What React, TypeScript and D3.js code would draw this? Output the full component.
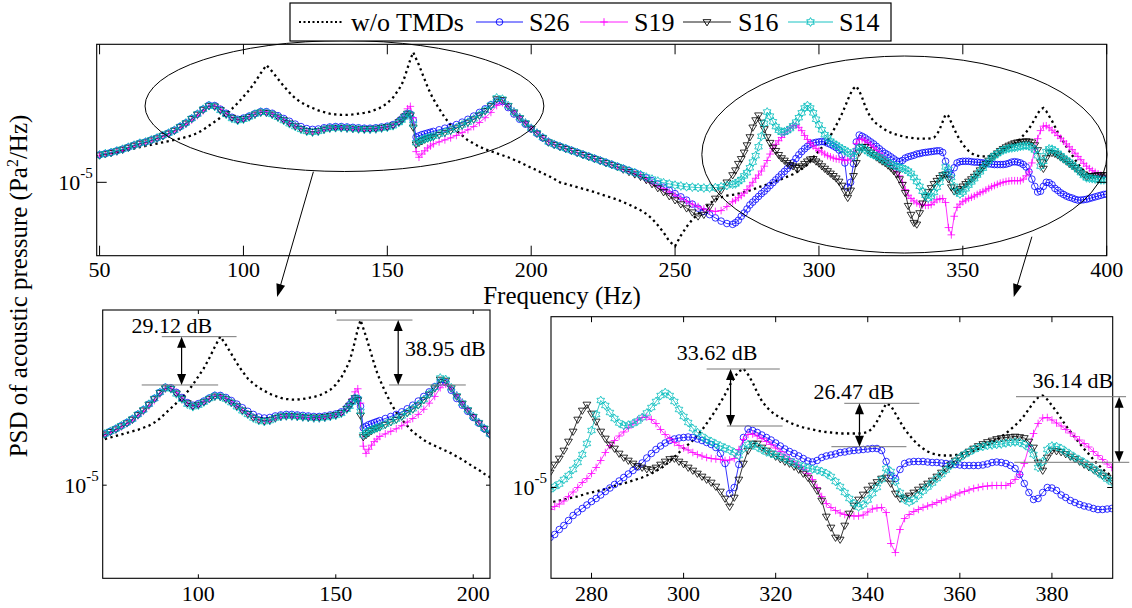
import React from "react";
import * as d3 from "d3";

// Frequency grid (Hz)
const FREQ: number[] = [
  ...d3.range(50, 155, 2),
  ...d3.range(155, 166, 1),
  ...d3.range(166, 271, 2),
  ...d3.range(271, 401, 1),
];

// PSD level (log units, -50 <-> 1e-5 Pa^2/Hz)
const WO_TMD = [
  -46.7,-46.55,-46.4,-46.25,-46.1,-45.95,-45.8,-45.65,-45.5,-45.35,-45.2,-45.05,-44.9,-44.75,-44.6,-44.4,-44.2,-43.9,-43.5,-43.0,
  -42.5,-42.0,-41.5,-40.9,-40.2,-39.4,-38.6,-37.6,-36.5,-35.5,-36.3,-37.2,-38.1,-38.9,-39.6,-40.1,-40.5,-40.8,-41.1,-41.3,
  -41.5,-41.6,-41.65,-41.65,-41.6,-41.5,-41.4,-41.25,-41.0,-40.7,-40.2,-39.5,-38.5,
  -37.9,-37.0,-35.9,-34.8,-33.9,-34.7,-35.5,-36.4,-37.3,-38.2,-39.0,
  -39.7,-40.9,-42.0,-42.9,-43.6,-44.2,-44.8,-45.2,-45.6,-45.9,-46.15,-46.4,-46.65,-46.9,-47.2,-47.5,-47.85,-48.2,-48.5,-48.9,
  -49.2,-49.6,-50.0,-50.2,-50.4,-50.6,-50.8,-51.0,-51.2,-51.45,-51.7,-51.9,-52.15,-52.45,-52.75,-53.1,-53.45,-53.9,-54.5,-55.3,
  -56.2,-57.3,-57.9,-56.6,-55.5,-54.6,-53.9,-53.3,-52.6,-52.15,-51.85,-51.65,-51.55,
  -51.5,-51.4,-51.3,-51.2,-51.1,-51.0,-50.9,-50.75,-50.6,-50.5,
  -50.4,-50.25,-50.15,-50.0,-49.85,-49.7,-49.6,-49.45,-49.3,-49.15,
  -49.0,-48.8,-48.6,-48.35,-48.1,-47.8,-47.35,-46.95,-46.5,-46.1,
  -45.7,-45.3,-44.8,-44.25,-43.6,-42.95,-42.25,-41.5,-40.7,-39.8,
  -39.0,-38.4,-38.1,-38.7,-39.5,-40.5,-41.35,-41.95,-42.4,-42.75,
  -43.0,-43.25,-43.5,-43.7,-43.85,-44.0,-44.1,-44.2,-44.3,-44.4,
  -44.45,-44.5,-44.55,-44.6,-44.6,-44.6,-44.6,-44.6,-44.55,-44.45,
  -44.1,-43.4,-42.5,-41.6,-41.8,-42.6,-43.4,-44.15,-44.75,-45.3,
  -45.75,-46.1,-46.4,-46.6,-46.7,-46.8,-46.8,-46.8,-46.75,-46.65,
  -46.55,-46.45,-46.3,-46.15,-45.95,-45.75,-45.5,-45.2,-44.9,-44.6,
  -44.2,-43.8,-43.35,-42.8,-42.15,-41.5,-41.0,-40.8,-41.2,-41.8,
  -42.4,-43.1,-43.8,-44.4,-45.0,-45.6,-46.15,-46.65,-47.2,-47.7,
  -48.15,-48.55,-48.85,-49.0,-49.1,-49.2,-49.3,-49.35,-49.4,-49.45,
];

const S26 = [
  -46.6,-46.45,-46.3,-46.1,-45.9,-45.65,-45.4,-45.15,-45.0,-44.75,-44.5,-44.2,-43.9,-43.55,-43.1,-42.65,-42.1,-41.55,-40.95,-40.45,
  -40.5,-40.95,-41.45,-41.95,-42.2,-42.05,-41.8,-41.5,-41.25,-41.25,-41.45,-41.75,-42.1,-42.45,-42.8,-43.1,-43.35,-43.45,-43.4,-43.25,
  -43.15,-43.1,-43.1,-43.15,-43.2,-43.25,-43.3,-43.3,-43.25,-43.15,-43.05,-42.85,-42.45,
  -42.15,-41.8,-41.5,-41.55,-42.3,-44.4,-44.25,-44.1,-44.0,-43.9,-43.8,
  -43.7,-43.5,-43.3,-43.1,-42.85,-42.55,-42.2,-41.8,-41.35,-40.9,-40.4,-39.95,-40.0,-40.75,-41.55,-42.2,-42.8,-43.4,-43.95,-44.5,
  -45.0,-45.3,-45.55,-45.8,-46.05,-46.3,-46.55,-46.8,-47.05,-47.3,-47.55,-47.8,-48.05,-48.3,-48.55,-48.8,-49.1,-49.45,-49.8,-50.2,
  -50.6,-51.0,-51.4,-51.8,-52.2,-52.7,-53.2,-53.6,-54.0,-54.4,-54.8,-55.1,-55.2,
  -55.0,-54.7,-54.2,-53.8,-53.3,-52.8,-52.45,-52.1,-51.75,-51.4,
  -51.1,-50.75,-50.4,-50.05,-49.7,-49.35,-49.0,-48.65,-48.3,-47.95,
  -47.55,-47.05,-46.6,-46.2,-45.85,-45.55,-45.3,-45.15,-45.05,-45.0,
  -44.95,-45.0,-45.15,-45.3,-45.5,-45.7,-46.0,-46.6,-47.6,-50.6,
  -50.0,-47.7,-45.0,-44.15,-44.3,-44.5,-44.75,-45.0,-45.25,-45.55,
  -45.85,-46.15,-46.4,-46.6,-46.85,-47.1,-47.35,-47.45,-47.3,-47.0,
  -46.85,-46.75,-46.65,-46.5,-46.45,-46.35,-46.3,-46.25,-46.2,-46.15,
  -46.1,-46.1,-46.3,-47.4,-48.8,-49.1,-48.2,-47.6,-47.45,-47.4,
  -47.4,-47.4,-47.45,-47.5,-47.5,-47.55,-47.6,-47.65,-47.7,-47.75,
  -47.8,-47.8,-47.8,-47.8,-47.75,-47.65,-47.5,-47.45,-47.5,-47.6,
  -47.8,-48.1,-48.7,-49.6,-50.5,-51.2,-51.1,-50.5,-50.0,-50.05,
  -50.3,-50.75,-51.0,-51.3,-51.5,-51.7,-51.85,-51.95,-52.1,-52.2,
  -52.2,-52.15,-52.1,-52.0,-51.9,-51.8,-51.7,-51.6,-51.5,-51.45,
];

const S19 = [
  -46.65,-46.5,-46.35,-46.2,-46.0,-45.75,-45.5,-45.25,-45.1,-44.85,-44.6,-44.3,-44.0,-43.65,-43.25,-42.8,-42.3,-41.75,-41.15,-40.6,
  -40.55,-40.95,-41.5,-42.0,-42.3,-42.2,-41.9,-41.55,-41.3,-41.3,-41.55,-41.9,-42.3,-42.7,-43.05,-43.4,-43.65,-43.8,-43.75,-43.5,
  -43.35,-43.3,-43.3,-43.35,-43.4,-43.45,-43.5,-43.5,-43.45,-43.35,-43.2,-42.95,-42.5,
  -42.15,-41.6,-40.9,-40.6,-42.0,-46.2,-46.9,-46.5,-46.1,-45.75,-45.5,
  -45.25,-45.0,-44.75,-44.5,-44.2,-43.85,-43.5,-43.1,-42.6,-42.0,-41.35,-40.5,-40.15,-40.6,-41.2,-41.9,-42.6,-43.25,-43.85,-44.4,
  -44.95,-45.3,-45.55,-45.8,-46.05,-46.3,-46.55,-46.8,-47.05,-47.3,-47.55,-47.8,-48.1,-48.4,-48.65,-48.95,-49.2,-49.6,-50.0,-50.4,
  -50.8,-51.2,-51.6,-52.0,-52.35,-52.7,-53.0,-53.3,-53.5,-53.6,-53.5,-53.0,-52.4,
  -52.2,-51.9,-51.65,-51.35,-50.9,-50.45,-50.0,-49.5,-49.1,-48.6,
  -48.0,-47.3,-46.5,-45.8,-45.3,-44.85,-44.45,-44.05,-43.65,-43.25,
  -43.0,-42.95,-43.2,-43.6,-44.2,-44.7,-45.1,-45.5,-45.8,-46.05,
  -46.25,-46.5,-46.7,-46.85,-47.0,-47.1,-47.15,-47.2,-47.3,-47.25,
  -47.1,-46.2,-45.2,-44.7,-44.65,-44.85,-45.1,-45.4,-45.7,-46.05,
  -46.4,-46.75,-47.1,-47.45,-47.8,-48.2,-48.6,-49.2,-50.0,-50.9,
  -51.6,-52.0,-52.3,-52.55,-52.7,-52.8,-52.85,-52.85,-52.75,-52.45,
  -52.15,-52.05,-52.0,-52.5,-55.6,-56.5,-54.2,-53.1,-52.7,-52.4,
  -52.2,-52.0,-51.85,-51.7,-51.5,-51.3,-51.15,-50.95,-50.75,-50.55,
  -50.4,-50.25,-50.1,-50.0,-49.9,-49.85,-49.8,-49.8,-49.8,-49.8,
  -49.6,-49.2,-48.7,-47.6,-45.9,-44.6,-43.6,-43.05,-43.0,-43.25,
  -43.55,-43.85,-44.2,-44.55,-44.9,-45.25,-45.6,-45.95,-46.4,-46.8,
  -47.2,-47.65,-48.0,-48.3,-48.55,-48.75,-48.95,-49.1,-49.2,-49.3,
];

const S16 = [
  -46.65,-46.5,-46.35,-46.15,-45.95,-45.7,-45.45,-45.2,-45.05,-44.8,-44.55,-44.25,-43.95,-43.6,-43.15,-42.7,-42.15,-41.6,-41.0,-40.55,
  -40.6,-41.05,-41.55,-42.0,-42.3,-42.15,-41.9,-41.6,-41.35,-41.4,-41.6,-41.95,-42.3,-42.7,-43.05,-43.4,-43.65,-43.75,-43.65,-43.45,
  -43.3,-43.25,-43.25,-43.3,-43.35,-43.4,-43.4,-43.4,-43.35,-43.25,-43.15,-42.95,-42.55,
  -42.25,-41.85,-41.5,-41.7,-43.2,-45.3,-45.1,-44.9,-44.7,-44.55,-44.45,
  -44.35,-44.1,-43.85,-43.6,-43.3,-42.95,-42.6,-42.2,-41.7,-41.15,-40.55,-39.7,-39.8,-40.55,-41.35,-42.05,-42.7,-43.35,-43.95,-44.5,
  -45.05,-45.35,-45.6,-45.85,-46.1,-46.35,-46.6,-46.85,-47.1,-47.35,-47.6,-47.85,-48.1,-48.4,-48.7,-49.0,-49.3,-49.7,-50.2,-50.7,
  -51.2,-51.7,-52.2,-52.7,-53.2,-53.7,-54.2,-54.0,-53.0,-52.0,-51.0,-50.0,-49.1,
  -48.5,-47.7,-47.1,-46.3,-45.4,-44.4,-43.2,-42.3,-41.7,-42.6,
  -43.4,-44.4,-45.1,-45.7,-46.1,-46.6,-47.0,-47.3,-47.6,-47.85,
  -48.0,-48.15,-48.2,-48.0,-47.7,-47.4,-47.15,-47.1,-47.4,-47.65,
  -48.0,-48.3,-48.6,-48.9,-49.2,-49.5,-49.9,-50.4,-51.1,-51.9,
  -51.0,-49.2,-47.6,-46.3,-45.6,-45.6,-46.0,-46.3,-46.6,-46.9,
  -47.15,-47.4,-47.6,-47.9,-48.2,-48.6,-49.0,-49.6,-50.3,-51.3,
  -52.9,-54.0,-55.0,-55.2,-53.8,-52.6,-51.8,-51.2,-50.7,-50.2,
  -49.8,-49.45,-49.1,-49.0,-49.6,-50.6,-51.1,-51.0,-50.8,-50.5,
  -50.2,-49.9,-49.6,-49.3,-48.9,-48.5,-48.1,-47.7,-47.3,-47.0,
  -46.7,-46.4,-46.1,-45.85,-45.65,-45.45,-45.3,-45.15,-45.05,-45.0,
  -44.95,-44.9,-44.95,-45.05,-45.4,-46.0,-47.5,-48.3,-47.0,-46.3,
  -46.35,-46.45,-46.65,-46.9,-47.15,-47.4,-47.7,-47.95,-48.2,-48.5,
  -48.8,-49.0,-49.3,-49.2,-49.2,-49.15,-49.1,-49.1,-49.1,-49.1,
];

const S14 = [
  -46.6,-46.45,-46.3,-46.1,-45.9,-45.65,-45.4,-45.15,-45.0,-44.75,-44.5,-44.2,-43.9,-43.55,-43.1,-42.65,-42.1,-41.55,-40.95,-40.5,
  -40.6,-41.1,-41.6,-42.1,-42.35,-42.2,-41.9,-41.55,-41.3,-41.35,-41.6,-41.95,-42.35,-42.75,-43.1,-43.45,-43.7,-43.8,-43.7,-43.45,
  -43.3,-43.25,-43.25,-43.3,-43.35,-43.4,-43.45,-43.45,-43.4,-43.3,-43.2,-43.0,-42.6,
  -42.3,-41.9,-41.5,-41.6,-42.8,-45.1,-44.9,-44.75,-44.6,-44.5,-44.4,
  -44.3,-44.05,-43.8,-43.55,-43.25,-42.9,-42.55,-42.15,-41.65,-41.1,-40.45,-39.55,-39.7,-40.5,-41.3,-42.0,-42.65,-43.3,-43.9,-44.45,
  -45.0,-45.3,-45.55,-45.8,-46.05,-46.3,-46.55,-46.8,-47.05,-47.3,-47.55,-47.8,-48.05,-48.3,-48.55,-48.8,-49.05,-49.35,-49.6,-49.85,
  -50.05,-50.2,-50.35,-50.45,-50.55,-50.6,-50.65,-50.7,-50.7,-50.65,-50.55,-50.4,-50.25,
  -50.2,-49.9,-49.65,-49.2,-48.8,-48.2,-47.5,-46.7,-45.6,-44.3,
  -42.7,-41.3,-41.8,-42.5,-43.1,-43.55,-43.8,-43.75,-43.6,-43.35,
  -43.0,-42.55,-42.0,-41.4,-40.8,-40.5,-40.8,-41.4,-42.2,-42.9,
  -43.5,-44.1,-44.5,-44.9,-45.2,-45.4,-45.65,-45.85,-46.05,-46.25,
  -46.5,-46.8,-46.1,-45.7,-45.75,-45.95,-46.2,-46.45,-46.6,-46.75,
  -46.9,-47.1,-47.35,-47.55,-47.75,-47.9,-48.05,-48.15,-48.25,-48.4,
  -48.6,-48.9,-49.4,-49.9,-50.5,-51.1,-51.6,-51.95,-51.7,-51.25,
  -50.6,-50.0,-49.2,-48.1,-48.4,-49.4,-50.5,-51.2,-51.45,-51.2,
  -50.8,-50.35,-49.95,-49.55,-49.1,-48.7,-48.25,-47.8,-47.4,-47.0,
  -46.7,-46.45,-46.2,-46.0,-45.9,-45.8,-45.75,-45.7,-45.65,-45.55,
  -45.5,-45.45,-45.5,-45.7,-46.0,-46.7,-48.0,-47.4,-46.2,-45.85,
  -45.9,-46.1,-46.4,-46.7,-47.0,-47.25,-47.5,-47.8,-48.1,-48.45,
  -48.8,-49.15,-49.45,-49.5,-49.55,-49.6,-49.65,-49.7,-49.7,-49.7,
];

const LEVEL_DOMAIN: [number, number] = [-59.08, -32.92];
const Y_TICK = -50;

const SERIES = [
  { name: "S26", values: S26, color: "#0000ff", marker: "circle" },
  { name: "S19", values: S19, color: "#ff00ff", marker: "plus" },
  { name: "S16", values: S16, color: "#000000", marker: "tridown" },
  { name: "S14", values: S14, color: "#00bcbc", marker: "hexagram" },
];

const TOP_TICKS = [50, 100, 150, 200, 250, 300, 350, 400];
const BL_TICKS = [100, 150, 200];
const BR_TICKS = [280, 300, 320, 340, 360, 380];

const PANELS = [
  { id: "top", xDomain: [49, 400], left: 96.7, right: 1106.7, top: 44.3, bottom: 255.7, ticks: TOP_TICKS, tickLen: 10, labelY: 277 },
  { id: "bl", xDomain: [65.2, 206.1], left: 102.7, right: 490, top: 310, bottom: 578.3, ticks: BL_TICKS, tickLen: 4, labelY: 601 },
  { id: "br", xDomain: [271.2, 393.2], left: 551, right: 1112.7, top: 316.7, bottom: 578.3, ticks: BR_TICKS, tickLen: 5.5, labelY: 601 },
];

const BL_ANNOT = [
  { label: "29.12 dB", tx: 75.7, ty: -35.16, up: -35.52, upX: [86.7, 113.9], low: -40.23, lowX: [79.4, 107.2], ax: 93.9 },
  { label: "38.95 dB", tx: 175.2, ty: -37.4, up: -33.9, upX: [150.3, 177.9], low: -40.23, lowX: [169.4, 197.3], ax: 172.7 },
];
const BR_ANNOT = [
  { label: "33.62 dB", tx: 298.5, ty: -37.25, up: -38.15, upX: [305.0, 320.9], low: -43.85, lowX: [309.4, 321.5], ax: 310.2 },
  { label: "26.47 dB", tx: 328.2, ty: -41.15, up: -41.58, upX: [334.9, 351.2], low: -45.92, lowX: [332.1, 348.4], ax: 338.2 },
  { label: "36.14 dB", tx: 375.8, ty: -40.05, up: -40.92, upX: [372.2, 396.1], low: -47.48, lowX: [371.8, 396.8], ax: 394.6 },
];
const ELLIPSES = [
  { cx: 135.1, cy: -40.56, rx: 69.3, ry: 8.1, from: [124.3, -48.69], to: [111.7, -64.2] },
  { cx: 329.7, cy: -46.56, rx: 70.4, ry: 12.19, from: [374.0, -56.73], to: [367.7, -64.2] },
];

const SERIF = { fontFamily: "Liberation Serif" };

function markerPath(kind: string, px: number, py: number): string {
  switch (kind) {
    case "circle": {
      const r = 3.3;
      return `M${px + r},${py}A${r},${r} 0 1,1 ${px - r},${py}A${r},${r} 0 1,1 ${px + r},${py}Z`;
    }
    case "plus": {
      const s = 3.8;
      return `M${px - s},${py}H${px + s}M${px},${py - s}V${py + s}`;
    }
    case "tridown": {
      const s = 3.9;
      return `M${px - s},${py - s * 0.6}L${px + s},${py - s * 0.6}L${px},${py + s}Z`;
    }
    default: {
      const R = 4.4, r = R / Math.sqrt(3);
      let d = "";
      for (let k = 0; k < 12; k++) {
        const a = -Math.PI / 2 + (k * Math.PI) / 6;
        const rr = k % 2 === 0 ? R : r;
        d += (k === 0 ? "M" : "L") + (px + rr * Math.cos(a)).toFixed(2) + "," + (py + rr * Math.sin(a)).toFixed(2);
      }
      return d + "Z";
    }
  }
}

function arrowHead(x: number, y: number, dx: number, dy: number, len = 10, half = 4.5) {
  const n = Math.hypot(dx, dy);
  const ux = dx / n, uy = dy / n;
  const bx = x - ux * len, by = y - uy * len;
  return `M${x},${y}L${bx - uy * half},${by + ux * half}L${bx + uy * half},${by - ux * half}Z`;
}

function DoubleArrow({ x, y1, y2 }: { x: number; y1: number; y2: number }) {
  return (
    <g>
      <line x1={x} x2={x} y1={y1 + 8} y2={y2 - 8} stroke="#000" strokeWidth={1.2} />
      <path d={arrowHead(x, y1, 0, -1, 11, 4.5)} fill="#000" />
      <path d={arrowHead(x, y2, 0, 1, 11, 4.5)} fill="#000" />
    </g>
  );
}

function YTickLabel({ x, y }: { x: number; y: number }) {
  return (
    <text x={x} y={y + 7.5} textAnchor="end" fontSize={22} style={SERIF}>
      10<tspan dy={-12} fontSize={15}>-5</tspan>
    </text>
  );
}

function Panel({ p }: { p: (typeof PANELS)[number] }) {
  const x = d3.scaleLinear().domain(p.xDomain).range([p.left, p.right]);
  const y = d3.scaleLinear().domain(LEVEL_DOMAIN).range([p.bottom, p.top]);
  const idx = FREQ.map((_, i) => i).filter((i) => FREQ[i] >= p.xDomain[0] - 4 && FREQ[i] <= p.xDomain[1] + 4);
  const pathFor = (vals: number[]) =>
    d3.line<number>().x((i) => x(FREQ[i])).y((i) => y(vals[i]))(idx) || "";
  const clipId = `clip-${p.id}`;
  const yt = y(Y_TICK);
  return (
    <g>
      <defs>
        <clipPath id={clipId}>
          <rect x={p.left} y={p.top} width={p.right - p.left} height={p.bottom - p.top} />
        </clipPath>
      </defs>
      <rect x={p.left} y={p.top} width={p.right - p.left} height={p.bottom - p.top} fill="#fff" />
      <g clipPath={`url(#${clipId})`}>
        <path d={pathFor(WO_TMD)} fill="none" stroke="#000" strokeWidth={2.3} strokeDasharray="2.3 3.4" />
        {SERIES.map((s) => (
          <g key={s.name}>
            <path d={pathFor(s.values)} fill="none" stroke={s.color} strokeWidth={0.8} />
            <path
              d={idx.map((i) => markerPath(s.marker, x(FREQ[i]), y(s.values[i]))).join("")}
              fill="none"
              stroke={s.color}
              strokeWidth={0.8}
            />
          </g>
        ))}
      </g>
      <rect x={p.left} y={p.top} width={p.right - p.left} height={p.bottom - p.top} fill="none" stroke="#000" strokeWidth={1.1} />
      {p.ticks.map((t) => (
        <g key={t}>
          <line x1={x(t)} x2={x(t)} y1={p.bottom} y2={p.bottom - p.tickLen} stroke="#000" strokeWidth={1} />
          <line x1={x(t)} x2={x(t)} y1={p.top} y2={p.top + p.tickLen} stroke="#000" strokeWidth={1} />
          <text x={x(t)} y={p.labelY} textAnchor="middle" fontSize={22} style={SERIF}>
            {t}
          </text>
        </g>
      ))}
      <line x1={p.left} x2={p.left + p.tickLen} y1={yt} y2={yt} stroke="#000" strokeWidth={1} />
      <line x1={p.right - p.tickLen} x2={p.right} y1={yt} y2={yt} stroke="#000" strokeWidth={1} />
      <YTickLabel x={p.left - 4} y={yt} />
    </g>
  );
}

function Annotations({ p, list }: { p: (typeof PANELS)[number]; list: typeof BL_ANNOT }) {
  const x = d3.scaleLinear().domain(p.xDomain).range([p.left, p.right]);
  const y = d3.scaleLinear().domain(LEVEL_DOMAIN).range([p.bottom, p.top]);
  return (
    <g>
      {list.map((a) => (
        <g key={a.label}>
          <line x1={x(a.upX[0])} x2={x(a.upX[1])} y1={y(a.up)} y2={y(a.up)} stroke="#777" strokeWidth={1} />
          <line x1={x(a.lowX[0])} x2={x(a.lowX[1])} y1={y(a.low)} y2={y(a.low)} stroke="#777" strokeWidth={1} />
          <DoubleArrow x={x(a.ax)} y1={y(a.up)} y2={y(a.low)} />
          <text x={x(a.tx)} y={y(a.ty)} fontSize={22} style={SERIF}>
            {a.label}
          </text>
        </g>
      ))}
    </g>
  );
}

function Legend() {
  const cy = 22;
  const items = [
    { label: "w/o TMDs", x0: 299, x1: 343, tx: 351, color: "#000", marker: null as string | null, dotted: true },
    { label: "S26", x0: 476, x1: 523, tx: 529, color: "#0000ff", marker: "circle", dotted: false },
    { label: "S19", x0: 580, x1: 628, tx: 634, color: "#ff00ff", marker: "plus", dotted: false },
    { label: "S16", x0: 683, x1: 731, tx: 738, color: "#000000", marker: "tridown", dotted: false },
    { label: "S14", x0: 788, x1: 833, tx: 839, color: "#00bcbc", marker: "hexagram", dotted: false },
  ];
  return (
    <g>
      <rect x={290} y={3} width={601} height={38} fill="#fff" stroke="#000" strokeWidth={1.2} />
      {items.map((it) => (
        <g key={it.label}>
          <line
            x1={it.x0}
            x2={it.x1}
            y1={cy}
            y2={cy}
            stroke={it.color}
            strokeWidth={it.dotted ? 2.2 : 0.9}
            strokeDasharray={it.dotted ? "2 2.5" : undefined}
          />
          {it.marker && (
            <path d={markerPath(it.marker, (it.x0 + it.x1) / 2, cy)} fill="none" stroke={it.color} strokeWidth={0.9} />
          )}
          <text x={it.tx} y={cy + 9} fontSize={26} style={SERIF}>
            {it.label}
          </text>
        </g>
      ))}
    </g>
  );
}

export default function App() {
  const top = PANELS[0];
  const tx = d3.scaleLinear().domain(top.xDomain).range([top.left, top.right]);
  const ty = d3.scaleLinear().domain(LEVEL_DOMAIN).range([top.bottom, top.top]);
  return (
    <svg
      width={1132}
      height={608}
      viewBox="0 0 1132 608"
      style={{ position: "absolute", left: 0, top: 0, background: "#fff" }}
    >
      <rect x={0} y={0} width={1132} height={608} fill="#fff" />
      {PANELS.map((p) => (
        <Panel key={p.id} p={p} />
      ))}
      {ELLIPSES.map((e, i) => {
        const x1 = tx(e.from[0]), y1 = ty(e.from[1]);
        const x2 = tx(e.to[0]), y2 = ty(e.to[1]);
        return (
          <g key={i}>
            <ellipse
              cx={tx(e.cx)}
              cy={ty(e.cy)}
              rx={tx(e.cx + e.rx) - tx(e.cx)}
              ry={ty(e.cy - e.ry) - ty(e.cy)}
              fill="none"
              stroke="#000"
              strokeWidth={1}
            />
            <line x1={x1} y1={y1} x2={x2 - (x2 - x1) * 0.08} y2={y2 - (y2 - y1) * 0.08} stroke="#000" strokeWidth={1} />
            <path d={arrowHead(x2, y2, x2 - x1, y2 - y1, 13, 4.5)} fill="#000" />
          </g>
        );
      })}
      <Annotations p={PANELS[1]} list={BL_ANNOT} />
      <Annotations p={PANELS[2]} list={BR_ANNOT} />
      <Legend />
      <text x={562} y={304} textAnchor="middle" fontSize={25} style={SERIF}>
        Frequency (Hz)
      </text>
      <text transform="translate(27,286) rotate(-90)" textAnchor="middle" fontSize={25} style={SERIF}>
        PSD of acoustic pressure (Pa<tspan dy={-9} fontSize={16}>2</tspan>
        <tspan dy={9}>/Hz)</tspan>
      </text>
    </svg>
  );
}
